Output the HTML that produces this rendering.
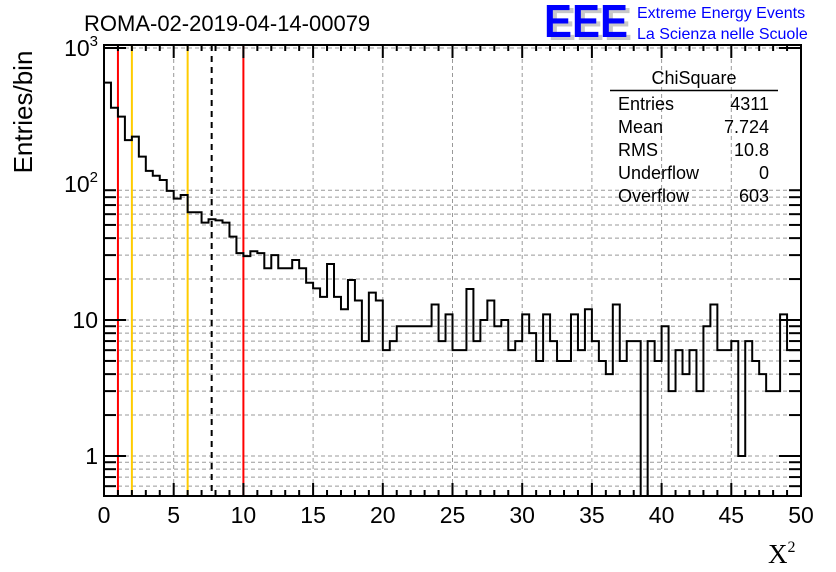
<!DOCTYPE html>
<html><head><meta charset="utf-8">
<style>
body{margin:0;background:#fff;}
svg{display:block;font-family:"Liberation Sans",sans-serif;}
</style></head>
<body>
<svg id="chart" width="836" height="572" viewBox="0 0 836 572">
<rect width="836" height="572" fill="#fff"/>
<g id="grid"></g>
<g id="vlines"></g>
<path id="hist" fill="none" stroke="#000" stroke-width="2"/>
<g id="axes"></g>
<text x="84" y="31" font-size="22">ROMA-02-2019-04-14-00079</text>
<g>
<text x="548" y="40" font-size="46" font-weight="bold" fill="#c8c8c8" textLength="84" lengthAdjust="spacingAndGlyphs">EEE</text>
<text x="544" y="37" font-size="46" font-weight="bold" fill="#0000ff" textLength="84" lengthAdjust="spacingAndGlyphs">EEE</text>
<text x="637" y="18" font-size="16" fill="#0000ff">Extreme Energy Events</text>
<text x="637" y="39" font-size="16" fill="#0000ff">La Scienza nelle Scuole</text>
</g>
<g font-size="18">
<text x="694" y="84" text-anchor="middle">ChiSquare</text>
<line x1="610" y1="90.5" x2="778" y2="90.5" stroke="#000" stroke-width="1.5"/>
<text x="618" y="110">Entries</text><text x="769" y="110" text-anchor="end">4311</text>
<text x="618" y="133">Mean</text><text x="769" y="133" text-anchor="end">7.724</text>
<text x="618" y="156">RMS</text><text x="769" y="156" text-anchor="end">10.8</text>
<text x="618" y="179">Underflow</text><text x="769" y="179" text-anchor="end">0</text>
<text x="618" y="202">Overflow</text><text x="769" y="202" text-anchor="end">603</text>
</g>
<text transform="translate(32,112) rotate(-90)" text-anchor="middle" font-size="26">Entries/bin</text>
<text x="768" y="563" font-size="27" font-family="Liberation Serif,serif">X<tspan font-size="16" dy="-11">2</tspan></text>
</svg>
<script>
const binCounts = [556,364,313,210,223,159,125,115,107,89,78,83,62,62,52,55,54,52,41,31,
29.5,32,31,24,30,24,24,27.6,24,18.8,17.1,14.8,25.8,14.8,12,19.7,13.9,7,15.9,13.9,
6,7,9,9,9,9,9,13,7,11,6,6,16.9,7,10,13.9,9,10,6,7,
11,8,5,11,7,5,5,11,6,12,7,5,4,13,5,7,7,0,7,5,
9,3,6,4,6,3,9,13,6,6,7,1,7,5,4,3,3,11,6,6];
const xTickLabels = ["0","5","10","15","20","25","30","35","40","45","50"];
const yTickLabels = ["1","10","10²","10³"];
const cutLines = [1,2,6,7.724,10];
const cutColors = ["#ff0000","#ffcc00","#ffcc00","#000","#ff0000"];
const X0=104,X1=801,Y0=45,Y1=496,XMIN=0,XMAX=50,BINW=0.5;
function sx(v){return X0+(v-XMIN)/(XMAX-XMIN)*(X1-X0);}
function sy(v){if(v<=0)return Y1;const y=456-136*Math.log10(v);return Math.max(Y0,Math.min(Y1,y));}
const NS="http://www.w3.org/2000/svg";
function mk(tag,attrs,parent){const e=document.createElementNS(NS,tag);for(const k in attrs)e.setAttribute(k,attrs[k]);parent.appendChild(e);return e;}
const grid=document.getElementById('grid');
for(let i=1;i<xTickLabels.length-1;i++){const x=sx(+xTickLabels[i]);
 const l=mk('line',{x1:x,x2:x,y1:Y0,y2:Y1,stroke:'#999','stroke-dasharray':'4,3','stroke-width':1},grid);
 }
const yGridVals=[];for(let d=0;d<=2;d++)for(let m=1;m<=9;m++){const v=m*Math.pow(10,d-1);if(v>=0.5)yGridVals.push(v);}
yGridVals.push(1000);
yGridVals.forEach(v=>{const y=sy(v);
 const l=mk('line',{x1:X0,x2:X1,y1:y,y2:y,stroke:'#999','stroke-dasharray':'4,3','stroke-width':1},grid);
 });
const vl=document.getElementById('vlines');
cutLines.forEach((c,i)=>{const x=sx(c);
 const a={x1:x,x2:x,y1:Y0,y2:Y1,stroke:cutColors[i],'stroke-width':2};if(i===3)a['stroke-dasharray']='6,5';
 const l=mk('line',a,vl);});
let d='M'+X0+','+Y1;
binCounts.forEach((v,i)=>{const xa=sx(i*BINW),xb=sx((i+1)*BINW),y=sy(v);d+=' L'+xa+','+y+' L'+xb+','+y;});
d+=' L'+X1+','+Y1;
document.getElementById('hist').setAttribute('d',d);
const ax=document.getElementById('axes');
mk('rect',{x:X0,y:Y0,width:X1-X0,height:Y1-Y0,fill:'none',stroke:'#000','stroke-width':2},ax);
for(let v=0;v<=50;v++){const x=sx(v),len=v%5===0?13:6;
 mk('line',{x1:x,x2:x,y1:Y1,y2:Y1-len,stroke:'#000','stroke-width':2},ax);
 mk('line',{x1:x,x2:x,y1:Y0,y2:Y0+len,stroke:'#000','stroke-width':2},ax);}
xTickLabels.forEach(t=>{const tx=mk('text',{x:sx(+t),y:523,'text-anchor':'middle','font-size':23},ax);tx.textContent=t;
 });
yGridVals.forEach(v=>{const y=sy(v),maj=Math.abs(Math.log10(v)-Math.round(Math.log10(v)))<1e-9,len=maj?22:12;
 mk('line',{x1:X0,x2:X0+len,y1:y,y2:y,stroke:'#000','stroke-width':2},ax);
 mk('line',{x1:X1,x2:X1-len,y1:y,y2:y,stroke:'#000','stroke-width':2},ax);});
yTickLabels.forEach((t,i)=>{const y=sy(Math.pow(10,i));
 let tx;
 if(i<2){tx=mk('text',{x:98,y:y+8,'text-anchor':'end','font-size':23},ax);tx.textContent=t;}
 else{tx=mk('text',{x:98,y:y+8,'text-anchor':'end','font-size':23},ax);
  tx.innerHTML='10<tspan font-size="15" dy="-10">'+i+'</tspan>';}
 });
</script>
</body></html>
